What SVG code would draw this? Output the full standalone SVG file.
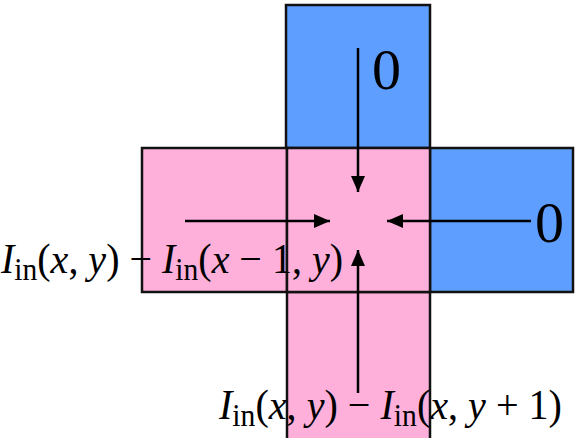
<svg xmlns="http://www.w3.org/2000/svg" width="579" height="438" viewBox="0 0 579 438">
<style>
.pink{fill:#FFB0DA;stroke:#111;stroke-width:2.5}
.blue{fill:#5E9EFF;stroke:#111;stroke-width:2.5}
.conn{stroke:#000;stroke-width:2.5;fill:none;marker-end:url(#ah)}
.m{font-family:"Liberation Serif","DejaVu Serif",serif;fill:#000}
.i{font-style:italic}
</style>
<defs>
<marker id="ah" markerUnits="userSpaceOnUse" markerWidth="18" markerHeight="16" refX="16" refY="7" orient="auto">
<path d="M0,0 L16,7 L0,14 Z" fill="#000"/>
</marker>
</defs>
<g id="top"><rect class="blue" x="286" y="5" width="144" height="143"/></g>
<g id="right"><rect class="blue" x="430" y="148" width="143" height="144"/></g>
<g id="left"><rect class="pink" x="142" y="148" width="145" height="144"/></g>
<g id="bottom"><rect class="pink" x="287" y="292" width="143" height="150"/></g>
<g id="center"><rect class="pink" x="287" y="148" width="143" height="144"/></g>
<g id="connectors">
<line class="conn" x1="358" y1="48" x2="358" y2="192"/>
<line class="conn" x1="531" y1="221" x2="387" y2="221"/>
<line class="conn" x1="358" y1="393" x2="358" y2="250"/>
<line class="conn" x1="185" y1="221" x2="330" y2="221"/>
</g>
<g id="labels">
<text class="m" x="372" y="89" font-size="58">0</text>
<text class="m" x="535" y="242" font-size="58">0</text>
<text class="m" x="1" y="273" font-size="42" textLength="342" lengthAdjust="spacingAndGlyphs"><tspan class="i">I</tspan><tspan font-size="31" dy="7">in</tspan><tspan dy="-7">(</tspan><tspan class="i">x</tspan>, <tspan class="i">y</tspan>) − <tspan class="i">I</tspan><tspan font-size="31" dy="7">in</tspan><tspan dy="-7">(</tspan><tspan class="i">x</tspan> − 1, <tspan class="i">y</tspan>)</text>
<text class="m" x="219" y="419" font-size="42" textLength="343" lengthAdjust="spacingAndGlyphs"><tspan class="i">I</tspan><tspan font-size="31" dy="7">in</tspan><tspan dy="-7">(</tspan><tspan class="i">x</tspan>, <tspan class="i">y</tspan>) − <tspan class="i">I</tspan><tspan font-size="31" dy="7">in</tspan><tspan dy="-7">(</tspan><tspan class="i">x</tspan>, <tspan class="i">y</tspan> + 1)</text>
</g>
</svg>
